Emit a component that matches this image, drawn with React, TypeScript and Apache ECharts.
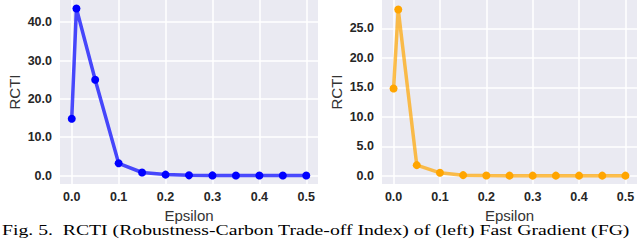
import React, { useEffect, useRef } from "react";
import * as echarts from "echarts";

const epsilons = [0.0, 0.01, 0.05, 0.1, 0.15, 0.2, 0.25, 0.3, 0.35, 0.4, 0.45, 0.5];
const fgRcti = [14.8, 43.6, 25.0, 3.2, 0.8, 0.25, 0.06, 0.04, 0.03, 0.03, 0.03, 0.02];
const rightRcti = [14.8, 28.2, 1.8, 0.5, 0.1, 0.03, 0.02, 0.02, 0.02, 0.02, 0.02, 0.02];
const xTicks = [0.0, 0.1, 0.2, 0.3, 0.4, 0.5];
const leftYTicks = [0, 10, 20, 30, 40];
const rightYTicks = [0, 5, 10, 15, 20, 25];
const caption = "Fig. 5.  RCTI (Robustness-Carbon Trade-off Index) of (left) Fast Gradient (FG)";

const BG = "#EAEAF2";
const TXT = "#262626";

function isTick(v: number, ticks: number[]) {
  return ticks.some((t) => Math.abs(v - t) < 1e-6);
}

function splitColors(min: number, step: number, ticks: number[], count: number) {
  const arr: string[] = [];
  for (let i = 0; i < count; i++) {
    const v = min + i * step;
    arr.push(isTick(v, ticks) ? "#ffffff" : "rgba(0,0,0,0)");
  }
  return arr;
}

export default function App() {
  const ref = useRef<HTMLDivElement>(null);
  useEffect(() => {
    if (!ref.current) return;
    const chart = echarts.init(ref.current, undefined, { renderer: "svg" });

    const xMin = -0.025, xMax = 0.525, xStep = 0.025;
    const lyMin = -2.2, lyMax = 45.8, yStep = 0.2;
    const ryMin = -1.4, ryMax = 29.8;

    const xCount = Math.round((xMax - xMin) / xStep) + 1;
    const lyCount = Math.round((lyMax - lyMin) / yStep) + 1;
    const ryCount = Math.round((ryMax - ryMin) / yStep) + 1;

    const xAxisBase = (gridIndex: number) => ({
      type: "value",
      gridIndex,
      min: xMin,
      max: xMax,
      interval: xStep,
      name: "Epsilon",
      nameLocation: "middle",
      nameGap: 19,
      nameTextStyle: { fontFamily: "Liberation Sans", fontSize: 15, color: "#333" },
      axisLine: { show: false },
      axisTick: { show: false },
      axisLabel: {
        margin: 6,
        fontFamily: "Liberation Sans",
        fontWeight: "bold",
        fontSize: 12.5,
        color: TXT,
        showMinLabel: true,
        showMaxLabel: true,
        formatter: (v: number) => (isTick(v, xTicks) ? v.toFixed(1) : ""),
      },
      splitLine: {
        show: true,
        lineStyle: { color: splitColors(xMin, xStep, xTicks, xCount), width: 1.5 },
      },
    });

    const yAxisBase = (gridIndex: number, min: number, max: number, ticks: number[], count: number) => ({
      type: "value",
      gridIndex,
      min,
      max,
      interval: yStep,
      name: "RCTI",
      nameLocation: "middle",
      nameGap: 38,
      nameTextStyle: { fontFamily: "Liberation Sans", fontSize: 15, color: "#333" },
      axisLine: { show: false },
      axisTick: { show: false },
      axisLabel: {
        margin: 8,
        fontFamily: "Liberation Sans",
        fontWeight: "bold",
        fontSize: 12.5,
        color: TXT,
        formatter: (v: number) => (isTick(v, ticks) ? v.toFixed(1) : ""),
      },
      splitLine: {
        show: true,
        lineStyle: { color: splitColors(min, yStep, ticks, count), width: 1.5 },
      },
    });

    const seriesBase = (idx: number, data: number[], lineColor: string, dotColor: string) => ({
      type: "line",
      xAxisIndex: idx,
      yAxisIndex: idx,
      data: epsilons.map((e, i) => [e, data[i]]),
      symbol: "circle",
      symbolSize: 8,
      showSymbol: true,
      lineStyle: { color: lineColor, width: 3.5 },
      itemStyle: { color: dotColor, borderWidth: 0 },
      z: 5,
    });

    chart.setOption({
      animation: false,
      backgroundColor: "#ffffff",
      grid: [
        { left: 60, right: 322, top: 0, bottom: 58, show: true, backgroundColor: BG, borderWidth: 0 },
        { left: 382, right: 0, top: 0, bottom: 58, show: true, backgroundColor: BG, borderWidth: 0 },
      ],
      xAxis: [xAxisBase(0), xAxisBase(1)],
      yAxis: [
        yAxisBase(0, lyMin, lyMax, leftYTicks, lyCount),
        yAxisBase(1, ryMin, ryMax, rightYTicks, ryCount),
      ],
      series: [
        seriesBase(0, fgRcti, "rgba(0,0,255,0.7)", "#0000ff"),
        seriesBase(1, rightRcti, "rgba(255,165,0,0.7)", "#FFA500"),
      ],
      graphic: [
        {
          type: "text",
          x: 2,
          y: 222,
          scaleX: 1.095,
          scaleY: 0.86,
          style: {
            text: caption,
            fontFamily: "Liberation Serif",
            fontSize: 18,
            fill: "#000",
            textVerticalAlign: "top",
          },
        },
      ],
    });
    return () => chart.dispose();
  }, []);

  return <div ref={ref} style={{ width: 640, height: 242, position: "absolute", left: 0, top: 0 }} />;
}
